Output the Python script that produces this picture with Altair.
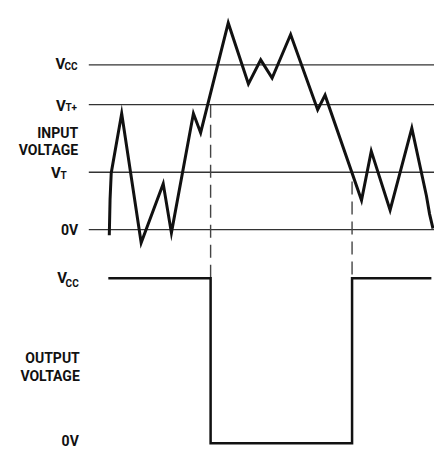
import altair as alt
import pandas as pd

# ---------------- data ----------------
# time in arbitrary units (0 .. 100 across the trace)
in_t = [0, 0.24, 0.60, 3.83, 9.85, 16.66, 19.19, 25.99, 28.22, 36.75, 42.98,
        46.78, 50.30, 56.02, 64.37, 66.66, 77.92, 80.93, 86.75, 93.46, 97.98,
        98.95, 100]
# input voltage, in units where 0V = 0 and VCC = 5
in_v = [-0.17, 0.92, 1.72, 3.52, -0.40, 1.39, -0.10, 3.52, 2.94, 6.27, 4.42,
        5.15, 4.60, 5.92, 3.64, 4.08, 0.89, 2.38, 0.59, 3.08, 1.02, 0.47, 0.03]

# output voltage (same units)
out_t = [-0.3, 31.3, 31.3, 75.0, 75.0, 99.5]
out_v = [5, 5, 0, 0, 5, 5]

level_names = ["VCC", "VT+", "VT", "0V"]
level_values = [5.0, 3.79, 1.74, 0.0]

switch_t = [31.3, 75.0]          # output switching instants
switch_v = [3.79, 1.46]          # input level where the dashed marker starts
out_vcc = 5

top_main = ["V", "V", "V"]
top_sub = ["CC", "T+", "T"]
zero_label = "0V"
in_title = ["INPUT", "VOLTAGE"]
out_title = ["OUTPUT", "VOLTAGE"]

# ---------------- layout constants ----------------
OUT_ZERO = -6.48                 # where the output trace's 0V sits on the shared axis
FONT = "Roboto"
W, H = 426, 440

inp = pd.DataFrame({"t": in_t, "v": in_v, "i": range(len(in_t))})
outp = pd.DataFrame({"t": out_t, "v": out_v, "i": range(len(out_t))})
levels = pd.DataFrame({"name": level_names, "v": level_values})
sw = pd.DataFrame({"t": switch_t, "v": switch_v, "vcc": [out_vcc] * 2})
one = pd.DataFrame({"a": [0]})

xs = alt.Scale(domain=[-31.29, 100.31], nice=False, zero=False)
ys = alt.Scale(domain=[-6.627, 6.724], nice=False, zero=False)


def label(text, x, y, size, align="left"):
    return alt.Chart(one).mark_text(
        text=text, align=align, baseline="alphabetic", fontSize=size,
        fontWeight="bold", font=FONT, color="#111"
    ).encode(x=alt.value(x), y=alt.value(y))


grid = alt.Chart(levels).mark_rule(color="#333", strokeWidth=1.3).encode(
    x=alt.value(80.8), x2=alt.value(W),
    y=alt.Y("v:Q", scale=ys, axis=None),
)
dashes = alt.Chart(sw).transform_calculate(
    vend=f"datum.vcc + ({OUT_ZERO})"
).mark_rule(color="#444", strokeWidth=1.4, strokeDash=[13, 7]).encode(
    x=alt.X("t:Q", scale=xs, axis=None),
    y=alt.Y("v:Q", scale=ys, axis=None),
    y2="vend:Q",
)
wave = alt.Chart(inp).mark_line(
    color="#111", strokeWidth=3, strokeJoin="miter", strokeMiterLimit=10
).encode(
    x=alt.X("t:Q", scale=xs, axis=None),
    y=alt.Y("v:Q", scale=ys, axis=None),
    order="i:O",
)
out_line = alt.Chart(outp).transform_calculate(
    vy=f"datum.v + ({OUT_ZERO})"
).mark_line(color="#111", strokeWidth=2.5, strokeJoin="miter").encode(
    x=alt.X("t:Q", scale=xs, axis=None),
    y=alt.Y("vy:Q", scale=ys, axis=None),
    order="i:O",
)

VS, SS, TS = 15, 10, 14
labels = [
    # input side
    label(top_main[0], 47.4, 60.7, VS), label(top_sub[0], 56.4, 62.0, SS),
    label(top_main[1], 48.0, 102.7, VS), label(top_sub[1], 57.4, 103.1, SS),
    label(in_title[0], 70.1, 129.7, TS, "right"),
    label(in_title[1], 70.1, 146.8, TS, "right"),
    label(top_main[2], 43.1, 170.2, VS), label(top_sub[2], 52.6, 171.4, SS),
    label(zero_label, 70.1, 227.1, TS, "right"),
    # output side
    label(top_main[0], 49.2, 275.2, VS), label(top_sub[0], 57.6, 278.5, SS),
    label(out_title[0], 71.8, 355.2, TS, "right"),
    label(out_title[1], 71.8, 373.4, TS, "right"),
    label(zero_label, 70.8, 438.3, TS, "right"),
]

chart = alt.layer(grid, dashes, out_line, wave, *labels).properties(
    width=W, height=H, padding=0, background="white",
    autosize=alt.AutoSizeParams(type="none"),
).configure_view(stroke=None)

chart.save("out.html", embed_options={"renderer": "svg", "actions": False})
